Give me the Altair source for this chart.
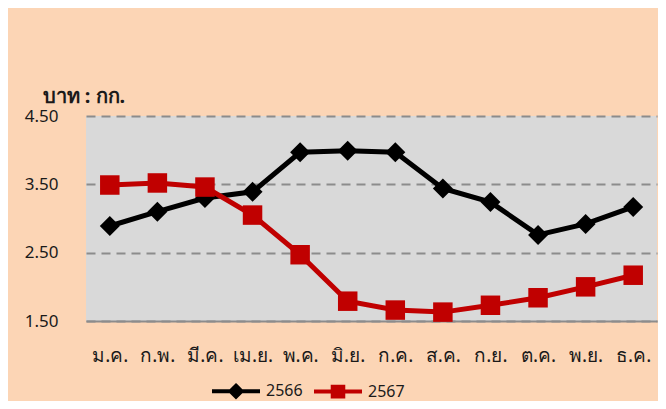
import altair as alt
import pandas as pd

months = ["ม.ค.", "ก.พ.", "มี.ค.", "เม.ย.", "พ.ค.", "มิ.ย.", "ก.ค.", "ส.ค.", "ก.ย.", "ต.ค.", "พ.ย.", "ธ.ค."]
v2566 = [2.89, 3.10, 3.30, 3.39, 3.97, 3.99, 3.97, 3.44, 3.24, 2.76, 2.92, 3.17]
v2567 = [3.49, 3.52, 3.46, 3.05, 2.47, 1.79, 1.66, 1.63, 1.73, 1.84, 2.00, 2.17]
series = ["2566", "2567"]
colors = ["#000000", "#C00000"]
y_ticks = [1.5, 2.5, 3.5, 4.5]

rows = []
for m, a, b in zip(months, v2566, v2567):
    rows.append({"month": m, "series": "2566", "value": a})
    rows.append({"month": m, "series": "2567", "value": b})
df = pd.DataFrame(rows)

FONT = "Noto Sans"
x_enc = alt.X("month:N", sort=months, scale=alt.Scale(type="point", padding=0.5),
              axis=alt.Axis(title=None, labelAngle=0, ticks=False, labelPadding=25,
                            domainColor="#8c8c8c", domainWidth=2, labelFontSize=19,
                            labelColor="#1a1a1a", labelFont=FONT, grid=False))
y_enc = alt.Y("value:Q", scale=alt.Scale(domain=[1.5, 4.5], nice=False, zero=False),
              axis=alt.Axis(title="บาท : กก.", titleAngle=0, titleAlign="left",
                            titleBaseline="alphabetic", titleX=-44, titleY=-14,
                            titleFontSize=20, titleFontWeight="bold", titleFont=FONT,
                            titleColor="#1a1a1a",
                            values=y_ticks, format=".2f", domain=False, ticks=False,
                            labelPadding=28, labelFontSize=17, labelColor="#1a1a1a",
                            labelFont=FONT, gridColor="#8c8c8c", gridWidth=2,
                            gridDash=[9, 6]))

color_scale = alt.Scale(domain=series, range=colors)

lines = alt.Chart(df).mark_line(strokeWidth=5).encode(
    x=x_enc, y=y_enc,
    color=alt.Color("series:N", scale=color_scale, legend=None),
)

diamonds = alt.Chart(df).transform_filter(alt.datum.series == "2566").mark_point(
    shape="diamond", filled=True, size=400, opacity=1, color="#000000"
).encode(x=x_enc, y=y_enc)

squares = alt.Chart(df).transform_filter(alt.datum.series == "2567").mark_point(
    shape="square", filled=True, size=380, opacity=1, color="#C00000"
).encode(x=x_enc, y=y_enc)

legend_paths = [
    "M-1,0H1M0,-0.23L0.23,0L0,0.23L-0.23,0Z",
    "M-1,0H1M-0.22,-0.2H0.22V0.2H-0.22Z",
]

leg = alt.Legend(title=None, orient="none", direction="horizontal",
                 legendX=124, legendY=249, symbolSize=2304,
                 symbolStrokeWidth=4, labelFontSize=16,
                 labelFont=FONT, labelColor="#1a1a1a",
                 labelOffset=4, columnPadding=3)

legend_layer = alt.Chart(df).transform_filter("false").mark_point(opacity=1).encode(
    x=x_enc, y=y_enc,
    fill=alt.Fill("series:N", scale=alt.Scale(domain=series, range=colors), legend=leg),
    stroke=alt.Stroke("series:N", scale=alt.Scale(domain=series, range=colors), legend=leg),
    shape=alt.Shape("series:N", scale=alt.Scale(domain=series, range=legend_paths), legend=leg),
)

chart = alt.layer(lines, diamonds, squares, legend_layer).properties(
    width=571, height=205,
    autosize=alt.AutoSizeParams(type="none"),
    padding={"left": 78, "top": 108, "right": 1, "bottom": 80},
    background="#FCD5B5",
).configure_view(fill="#D9D9D9", stroke=None).resolve_scale(
    fill="independent", stroke="independent", shape="independent", color="independent"
)

chart.save("out.html", embed_options={"renderer": "svg", "actions": False})
